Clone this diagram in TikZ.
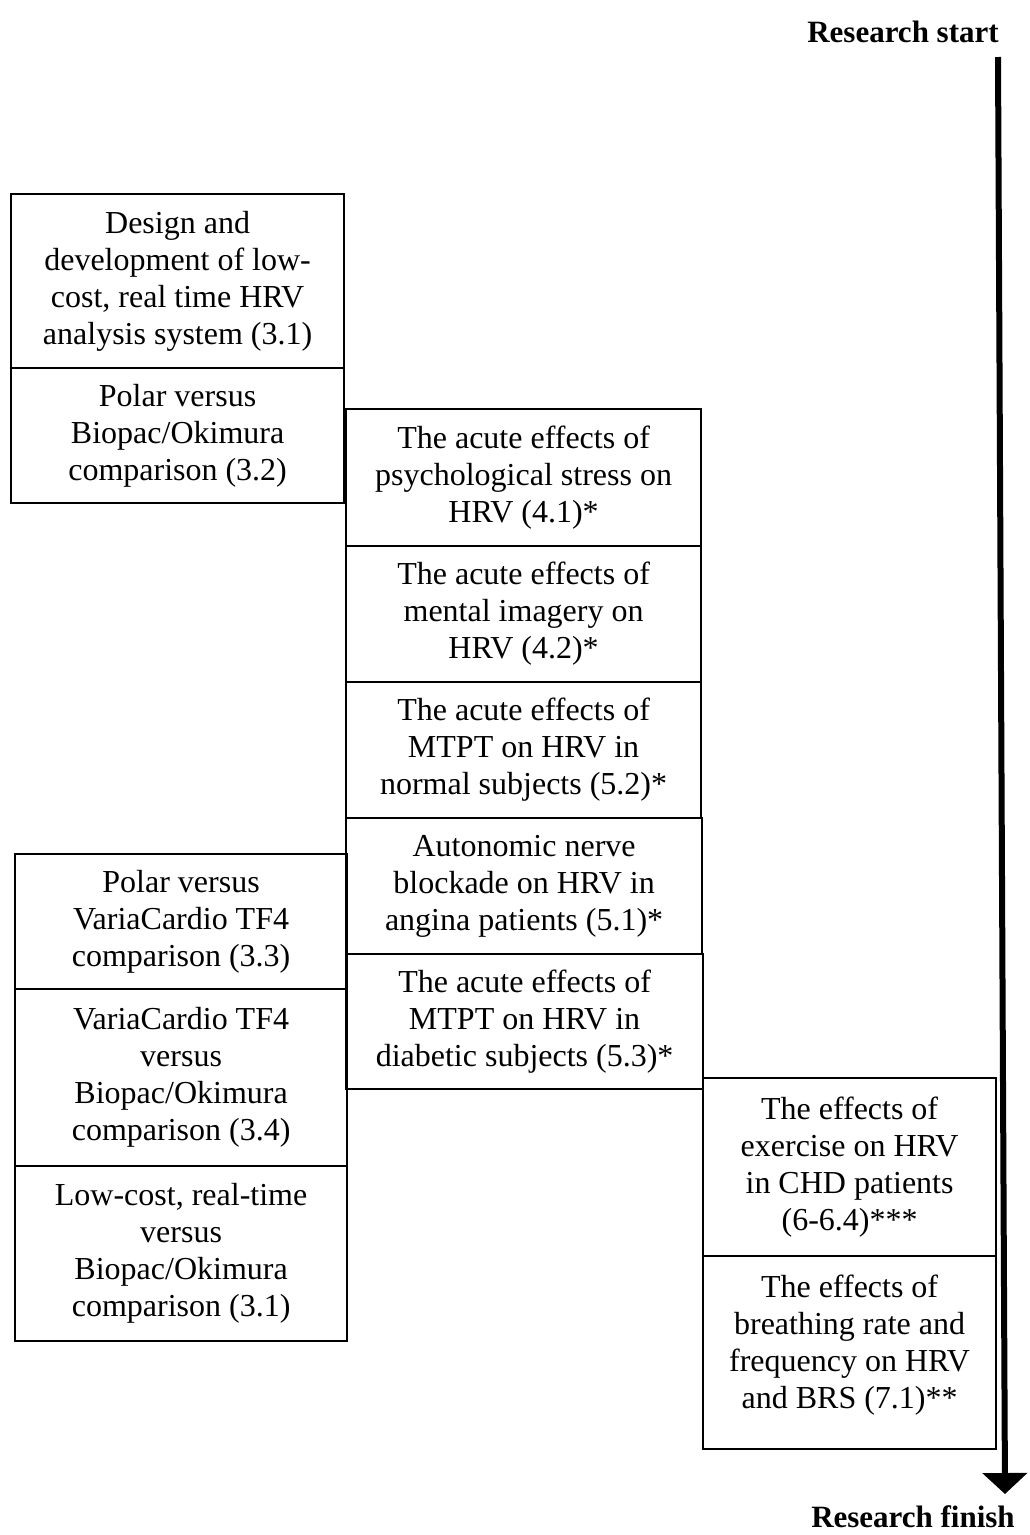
\documentclass[tikz,border=0pt]{standalone}
\usepackage{fontspec}
\setmainfont{Liberation Serif}
\usetikzlibrary{arrows.meta}
\tikzset{
  box/.style={draw, line width=2.2pt, inner sep=0pt, align=center, anchor=north west,
    font=\fontsize{32}{37}\selectfont},
  endlabel/.style={font=\fontsize{31}{36}\selectfont\bfseries, inner sep=0pt},
  timeline/.style={line width=6pt, -{Triangle[width=44pt,length=21pt]}}
}
\begin{document}
\begin{tikzpicture}[x=1pt,y=-1pt]
\useasboundingbox (0,0) rectangle (1030,1535);
% column 1, upper
\node[box, minimum width=333pt, minimum height=174pt] (a1) at (10,193)
  {Design and\\development of low-\\cost, real time HRV\\analysis system (3.1)};
\node[box, minimum width=333pt, minimum height=135pt] (a2) at (10,367)
  {Polar versus\\Biopac/Okimura\\comparison (3.2)};
% column 2
\node[box, minimum width=355pt, minimum height=137pt] (b1) at (345,408)
  {The acute effects of\\psychological stress on\\HRV (4.1)*};
\node[box, minimum width=355pt, minimum height=136pt] (b2) at (345,545)
  {The acute effects of\\mental imagery on\\HRV (4.2)*};
\node[box, minimum width=355pt, minimum height=136pt] (b3) at (345,681)
  {The acute effects of\\MTPT on HRV in\\normal subjects (5.2)*};
\node[box, minimum width=356pt, minimum height=136pt] (b4) at (345,817)
  {Autonomic nerve\\blockade on HRV in\\angina patients (5.1)*};
\node[box, minimum width=357pt, minimum height=135pt] (b5) at (345,953)
  {The acute effects of\\MTPT on HRV in\\diabetic subjects (5.3)*};
% column 1, lower
\node[box, minimum width=332pt, minimum height=135pt] (c1) at (14,853)
  {Polar versus\\VariaCardio TF4\\comparison (3.3)};
\node[box, minimum width=332pt, minimum height=177pt] (c2) at (14,988)
  {VariaCardio TF4\\versus\\Biopac/Okimura\\comparison (3.4)};
\node[box, minimum width=332pt, minimum height=175pt] (c3) at (14,1165)
  {Low-cost, real-time\\versus\\Biopac/Okimura\\comparison (3.1)};
% column 3
\node[box, minimum width=293pt, minimum height=178pt] (d1) at (702,1077)
  {The effects of\\exercise on HRV\\in CHD patients\\(6-6.4)***};
\node[box, minimum width=293pt, minimum height=193pt] (d2) at (702,1255)
  {\parbox[c][193pt][t]{293pt}{\centering\rule{0pt}{41pt}The effects of\\breathing rate and\\frequency on HRV\\and BRS (7.1)**}};
% timeline
\node[endlabel] (start) at (903,32) {Research start};
\node[endlabel] (finish) at (913,1517) {Research finish};
\coordinate (atop) at (998,57);
\coordinate (abot) at (1005,1494);
\draw[timeline] (atop) -- (abot);
\end{tikzpicture}
\end{document}
